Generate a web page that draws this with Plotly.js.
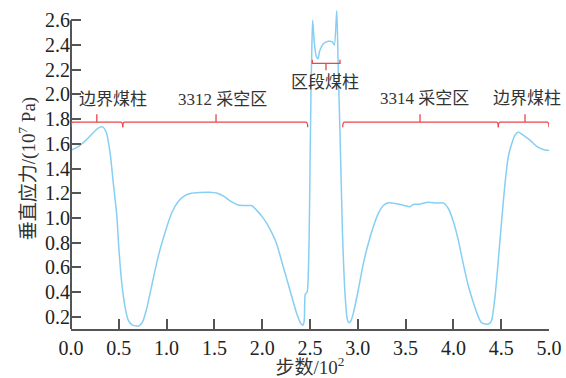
<!DOCTYPE html>
<html>
<head>
<meta charset="utf-8">
<script src="https://cdn.plot.ly/plotly-3.0.1.min.js"></script>
<style>html,body{margin:0;padding:0;background:#fff;}#chart{width:566px;height:378px;}</style>
</head>
<body>
<div id="chart"></div>
<script>
// Step count (x 10^2)
const steps = [0.00,0.08,0.15,0.22,0.28,0.33,0.37,0.41,0.44,0.48,0.50,0.53,0.565,0.60,0.635,0.69,0.72,0.75,0.79,0.844,0.913,0.983,1.053,1.12,1.19,1.26,1.35,1.45,1.53,1.60,1.663,1.75,1.83,1.89,1.94,2.00,2.047,2.10,2.15,2.22,2.29,2.36,2.40,2.425,2.44,2.45,2.47,2.49,2.50,2.51,2.52,2.528,2.545,2.565,2.585,2.60,2.64,2.69,2.735,2.755,2.78,2.795,2.814,2.84,2.866,2.89,2.91,2.93,2.953,3.005,3.058,3.11,3.162,3.215,3.267,3.32,3.39,3.476,3.546,3.58,3.65,3.737,3.825,3.894,3.947,4.00,4.051,4.10,4.156,4.21,4.26,4.29,4.33,4.38,4.40,4.435,4.47,4.505,4.54,4.574,4.61,4.644,4.68,4.73,4.80,4.87,4.94,5.00];
// Vertical stress (x 10^7 Pa)
const stress = [1.548,1.58,1.625,1.68,1.725,1.737,1.69,1.52,1.30,1.01,0.76,0.48,0.28,0.17,0.135,0.124,0.13,0.16,0.26,0.45,0.69,0.88,1.04,1.13,1.18,1.20,1.206,1.208,1.20,1.175,1.138,1.105,1.10,1.10,1.063,1.01,0.955,0.88,0.793,0.604,0.416,0.227,0.15,0.13,0.17,0.38,0.40,0.8,1.4,2.0,2.4,2.60,2.42,2.31,2.29,2.35,2.41,2.43,2.425,2.40,2.68,2.22,1.68,0.876,0.39,0.18,0.15,0.17,0.227,0.416,0.63,0.793,0.928,1.036,1.10,1.122,1.117,1.103,1.09,1.109,1.111,1.127,1.12,1.122,1.076,0.968,0.82,0.64,0.45,0.31,0.2,0.155,0.14,0.145,0.17,0.36,0.66,0.98,1.28,1.494,1.60,1.67,1.696,1.67,1.63,1.58,1.554,1.545];

const xTicks = [0,0.5,1.0,1.5,2.0,2.5,3.0,3.5,4.0,4.5,5.0];
const yTicks = [0.2,0.4,0.6,0.8,1.0,1.2,1.4,1.6,1.8,2.0,2.2,2.4,2.6];

// Zones (lower brackets) and pillar zone (upper bracket)
const zoneNames = ['边界煤柱','3312 采空区','3314 采空区','边界煤柱'];
const zoneStart = [0, 0.541, 2.842, 4.47];
const zoneEnd   = [0.541, 2.476, 4.47, 5.0];
const zoneMid   = [0.27, 1.517, 3.651, 4.749];
const pillarName = '区段煤柱';
const pillarStart = 2.524, pillarEnd = 2.814, pillarMid = 2.667;

const red = '#e8464a';
const txt = '#333333';
const axisCol = '#555555';
const serif = 'Liberation Serif, Times New Roman, Noto Sans CJK SC, serif';

const shapes = [];
// y-axis line only up to the top tick
shapes.push({type:'line', xref:'paper', yref:'y', x0:0, x1:0, y0:0.1, y1:yTicks[yTicks.length-1],
  line:{color:axisCol, width:2}});

const by = 1.775, hookDown = 1.735, tickUp = 1.84;
const dx = 0.02;
for (let i = 0; i < zoneStart.length; i++) {
  const a = zoneStart[i], b = zoneEnd[i], m = zoneMid[i];
  shapes.push({type:'path', xref:'x', yref:'y',
    path:`M ${a} ${hookDown} Q ${a} ${by} ${a+dx} ${by} L ${b-dx} ${by} Q ${b} ${by} ${b} ${hookDown} M ${m} ${by} L ${m} ${tickUp}`,
    line:{color:red, width:1.3}});
}
{
  const py = 2.252, hookUp = 2.28, tickDown = 2.195;
  shapes.push({type:'path', xref:'x', yref:'y',
    path:`M ${pillarStart} ${hookUp} L ${pillarStart} ${py} L ${pillarEnd} ${py} L ${pillarEnd} ${hookUp} M ${pillarMid} ${py} L ${pillarMid} ${tickDown}`,
    line:{color:red, width:1.3}});
}

const labelX = [0.44, 1.585, 3.70, 4.767];
const labelY = [1.955, 1.955, 1.965, 1.965];
const annotations = zoneNames.map((n,i)=>({
  x: labelX[i], y: labelY[i], xref:'x', yref:'y', text:n, showarrow:false,
  font:{family:serif, size:17, color:txt}
}));
annotations.push({x:2.652, y:2.1, xref:'x', yref:'y', text:pillarName, showarrow:false,
  font:{family:serif, size:17, color:txt}});

const trace = {
  x: steps, y: stress, type:'scatter', mode:'lines',
  line:{color:'#86cff2', width:1.5, shape:'spline', smoothing:0.6},
  hoverinfo:'skip'
};

const axisCommon = {
  ticks:'inside', ticklen:10, tickwidth:2, tickcolor:axisCol,
  showgrid:false, zeroline:false, tickformat:'.1f',
  tickfont:{family:serif, size:20, color:'#222'}
};

const layout = {
  width:566, height:378,
  margin:{l:71, r:17, t:8, b:49},
  paper_bgcolor:'#fff', plot_bgcolor:'#fff',
  showlegend:false,
  xaxis: Object.assign({}, axisCommon, {range:[0,5], tickvals:xTicks,
    showline:true, linecolor:axisCol, linewidth:2,
    title:{text:'步数/10<sup>2</sup>', font:{family:serif, size:19, color:txt}, standoff:2}}),
  yaxis: Object.assign({}, axisCommon, {range:[0.1,2.7], tickvals:yTicks, showline:false,
    title:{text:'垂直应力/(10<sup>7</sup> Pa)', font:{family:serif, size:19, color:txt}, standoff:4}}),
  shapes: shapes,
  annotations: annotations
};

Plotly.newPlot('chart', [trace], layout, {staticPlot:true, displayModeBar:false});
</script>
</body>
</html>
